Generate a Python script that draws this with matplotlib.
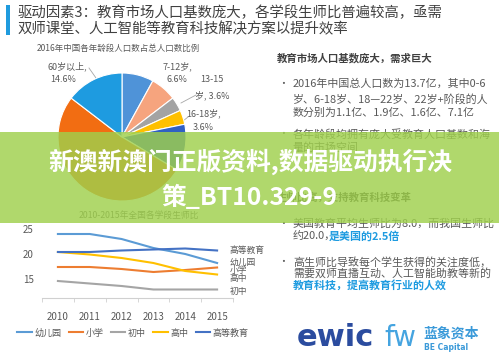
# -*- coding: utf-8 -*-
"""驱动因素3 信息图：年龄段人口饼图 + 2010-2015 生师比折线 + 文字说明 + 绿色水印横幅"""
import matplotlib; matplotlib.use("Agg")
import matplotlib.pyplot as plt
from matplotlib.patches import Rectangle
plt.rcParams.update({"font.family": ["Noto Sans CJK SC", "DejaVu Sans"]})

# ---------- data ----------
age_groups = ["0-6岁", "7-12岁", "13-15岁", "16-18岁", "19-25岁", "26-59岁", "60岁以上"]
age_share = [8.0, 6.6, 3.6, 3.6, 11.8, 51.8, 14.6]
age_colors = ["#4f93d8", "#f6a47e", "#a3a3a3", "#ffc000", "#3060c4", "#f26d12", "#1e9be0"]

years = ["2010", "2011", "2012", "2013", "2014", "2015"]
kinder = [24.0, 24.0, 23.0, 21.2, 20.0, 18.2]      # 幼儿园
primary = [17.4, 17.4, 17.0, 16.4, 16.8, 17.3]     # 小学
junior = [14.6, 14.1, 13.6, 12.9, 12.9, 12.9]      # 初中
senior = [20.4, 19.9, 19.2, 18.2, 16.6, 15.9]      # 高中
higher = [20.4, 20.4, 20.7, 20.9, 21.1, 20.7]      # 高等教育
series = [("幼儿园", kinder, "#5b9bd5"), ("小学", primary, "#ed7d31"),
          ("初中", junior, "#a5a5a5"), ("高中", senior, "#ffc000"),
          ("高等教育", higher, "#4472c4")]
end_labels = [("高等教育", 250), ("幼儿园", 262), ("小学", 271), ("高中", 279), ("初中", 291)]

W, H = 499, 357
fig = plt.figure(figsize=(W / 100, H / 100), dpi=100)
fig.patch.set_facecolor("white")

def rect(x0, y0, x1, y1):  # pixel box -> figure fraction
    return [x0 / W, 1 - y1 / H, (x1 - x0) / W, (y1 - y0) / H]

# text / background layer in pixel coordinates
bg = fig.add_axes([0, 0, 1, 1]); bg.axis("off"); bg.set_xlim(0, W); bg.set_ylim(H, 0)
def t(x, y, s, fs=8, c="#595959", **kw):
    bg.text(x, y, s, fontsize=fs, color=c, va="center", **kw)

bg.add_patch(Rectangle((6, 5), 4, 30, color="#1f9bde", lw=0))
t(18, 13, "驱动因素3：教育市场人口基数庞大，各学段生师比普遍较高，亟需", 10.4, "#404040")
t(18, 29, "双师课堂、人工智能等教育科技解决方案以提升效率", 10.4, "#404040")
t(37, 48, "2016年中国各年龄段人口数占总人口数比例", 6.1)

# right column
t(277, 58, "教育市场人口基数庞大，需求巨大", 7.5, "#404040", weight="bold")
for y in (84, 134, 224, 262):
    t(278, y, "•", 7)
t(293, 84, "2016年中国总人口数为13.7亿，其中0-6", 7.9)
t(293, 99, "岁、6-18岁、18—22岁、22岁+阶段的人", 7.9)
t(293, 113, "数分别为1.1亿、1.9亿、1.6亿、7.1亿", 7.9)
t(293, 134, "各年龄段均拥有庞大受教育人口基数和海", 7.9)
t(293, 148, "量的市场空间", 7.9)
t(277, 197, "生师比高，支持教育科技变革", 7.5, "#404040", weight="bold")
t(293, 224, "美国教育平均生师比为8.0，而我国生师比", 7.9)
t(293, 236, "约20.0，", 7.9)
t(329, 236, "是美国的2.5倍", 7.9, "#1e9be0", weight="bold")
t(293, 262, "高生师比导致每个学生获得的关注度低，", 7.9)
t(293, 273, "需要双师直播互动、人工智能助教等新的", 7.9)
t(293, 285, "教育科技，提高教育行业的人效", 7.9, "#1e9be0", weight="bold")

# logos (as text)
t(335, 338, "ewic", 22, "#2b4c9f", ha="center", weight="bold", family="DejaVu Sans")
t(400, 338, "fw", 20, "#45a4e0", ha="center", family="DejaVu Sans")
t(423, 334, "蓝象资本", 10, "#3b9ad9", weight="bold")
t(424, 347, "BE Capital", 5.5, "#3b9ad9", weight="bold", family="DejaVu Sans")

# ---------- pie ----------
ax = fig.add_axes(rect(122 - 64, 137 - 64, 122 + 64, 137 + 64))
ax.pie(age_share, colors=age_colors, startangle=90, counterclock=False, radius=1,
       wedgeprops=dict(edgecolor="white", linewidth=0.8))
ax.set_xlim(-1, 1); ax.set_ylim(-1, 1)

t(139, 80, f"{age_groups[0]},", 6.5, "#dbe9f7", ha="center")
t(137, 93, f"{age_share[0]:.1f}%", 6.5, "#dbe9f7", ha="center")
t(177, 66, f"{age_groups[1]},", 6.5, ha="center")
t(177, 80, f"{age_share[1]:.1f}%", 6.5, ha="center")
t(212, 79, "13-15", 6.5, ha="center")
t(212, 95, f"岁, {age_share[2]:.1f}%", 6.5, ha="center")
t(204, 113, f"{age_groups[3]},", 6.5, ha="center")
t(203, 128, f"{age_share[3]:.1f}%", 6.5, ha="center")
t(163, 138, f"{age_groups[4]},", 6.5, "#dfe6f5", ha="center")
t(97, 177, f"{age_share[5]:.1f}%", 6.5, "#fde3d0", ha="center")
t(67, 66, f"{age_groups[6]},", 6.5, ha="center")
t(63, 80, f"{age_share[6]:.1f}%", 6.5, ha="center")
for (x0, y0, x1, y1) in [(89, 68, 96, 78), (196, 95, 181, 103), (188, 117, 183, 121)]:
    bg.plot([x0, x1], [y0, y1], color="#a6a6a6", lw=0.6)

# ---------- line chart ----------
t(139, 215, "2010-2015年全国各学段生师比", 6.3, ha="center")
lx = fig.add_axes(rect(42, 224, 233, 298)); lx.patch.set_alpha(0)
xs = range(len(years))
for name, vals, c in series:
    lx.plot(xs, vals, color=c, lw=1.5, label=name)
lx.set_xlim(-0.5, len(years) - 0.5); lx.set_ylim(11.2, 26)
lx.set_xticks(list(xs)); lx.set_xticklabels(years, fontsize=7, color="#595959")
lx.set_xticks([i - 0.5 for i in range(len(years) + 1)], minor=True)
lx.set_yticks([15, 20, 25]); lx.set_yticklabels(["15", "20", "25"], fontsize=7, color="#595959")
lx.tick_params(axis="x", which="major", length=0, pad=10)
lx.tick_params(axis="x", which="minor", length=3, color="#d0d0d0")
lx.tick_params(axis="y", length=0, pad=6)
for s in ["top", "right", "left"]:
    lx.spines[s].set_visible(False)
lx.spines["bottom"].set_color("#d0d0d0")
for s, y in end_labels:
    t(230, y, s, 6.3)
fig.legend(loc="center", bbox_to_anchor=(133 / W, 1 - 333 / H), ncol=5, frameon=False,
           fontsize=6.5, handlelength=1.6, handletextpad=0.3, columnspacing=0.8,
           labelcolor="#595959")

# ---------- green watermark banner ----------
top = fig.add_axes([0, 0, 1, 1]); top.axis("off"); top.set_xlim(0, W); top.set_ylim(H, 0)
top.set_zorder(20)
top.add_patch(Rectangle((0, 132), W, 91, color="#9fd04c", alpha=0.82, lw=0))
top.text(250, 162, "新澳新澳门正版资料,数据驱动执行决", fontsize=17.8, color="white",
         weight="bold", ha="center", va="center")
top.text(249, 197, "策_BT10.329-9", fontsize=17.8, color="white",
         weight="bold", ha="center", va="center")

fig.savefig("out.png", dpi=100, facecolor="white")
